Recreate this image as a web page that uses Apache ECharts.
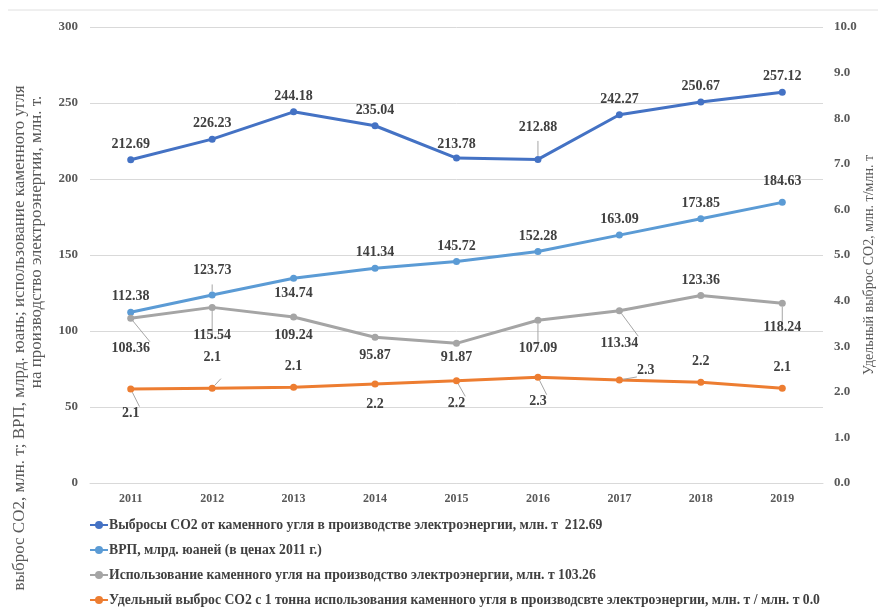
<!DOCTYPE html>
<html>
<head>
<meta charset="utf-8">
<script src="https://cdn.jsdelivr.net/npm/echarts@6/dist/echarts.min.js"></script>
<style>
  html,body{margin:0;padding:0;background:#fff;}
  #main{width:886px;height:610px;}
</style>
</head>
<body>
<div id="main"></div>
<script>
// данные с графика
var years = ['2011','2012','2013','2014','2015','2016','2017','2018','2019'];
var co2 = [212.69, 226.23, 244.18, 235.04, 213.78, 212.88, 242.27, 250.67, 257.12];
var grp = [112.38, 123.73, 134.74, 141.34, 145.72, 152.28, 163.09, 173.85, 184.63];
var coal = [108.36, 115.54, 109.24, 95.87, 91.87, 107.09, 113.34, 123.36, 118.24];
var intensity = [2.06, 2.08, 2.10, 2.17, 2.24, 2.32, 2.26, 2.21, 2.08];

var names = [
  'Выбросы CO2 от каменного угля в производстве электроэнергии, млн. т  212.69',
  'ВРП, млрд. юаней (в ценах 2011 г.)',
  'Использование каменного угля на производство электроэнергии, млн. т 103.26',
  'Удельный выброс CO2 с 1 тонна использования каменного угля в производсвте электроэнергии, млн. т / млн. т 0.0'
];

// где стоят подписи: [позиция, расстояние, выноска]
var co2Lbl = [['top',5],['top',5],['top',5],['top',5],['top',3],['top',22,1],['top',5],['top',5],['top',5]];
var grpLbl = [['top',5],['top',14,1],['bottom',5],['top',5],['top',5],['top',5],['top',5],['top',5],['top',10]];
var coalLbl = [['bottom',20,1],['bottom',18,1],['bottom',8],['bottom',8],['bottom',4],['bottom',18,1],['bottom',22,1],['top',5],['bottom',14,1]];
var intLbl = [['bottom',14,1],['top',20,1],['top',10],['bottom',10],['bottom',12,1],['bottom',14,1],['right',14,1],['top',10],['top',10]];

var FONT = '"Liberation Serif", "Times New Roman", serif';

function buildData(vals, lbl){
  return vals.map(function(v, i){
    var p = lbl[i];
    var item = {
      value: v,
      label: {position: p[0], distance: p[1]},
      labelLine: {show: !!p[2]}
    };
    if (p[0] == 'right') item.label.offset = [0, -10];
    return item;
  });
}

function mkSeries(name, vals, lbl, color, axis, dec){
  return {
    name: name,
    type: 'line',
    yAxisIndex: axis,
    data: buildData(vals, lbl),
    symbol: 'circle',
    symbolSize: 7,
    lineStyle: {width: 3, color: color},
    itemStyle: {color: color},
    label: {
      show: true,
      fontFamily: FONT,
      fontWeight: 'bold',
      fontSize: 14,
      color: '#404040',
      formatter: function(p){ return p.value.toFixed(dec); }
    },
    labelLine: {lineStyle: {color: '#a6a6a6', width: 1}}
  };
}

function vText(txt, x, y, size){
  return {
    type: 'text',
    x: x, y: y,
    rotation: Math.PI / 2,
    style: {
      text: txt,
      font: size + 'px ' + FONT,
      fill: '#595959',
      align: 'center',
      verticalAlign: 'middle'
    }
  };
}

var chart = echarts.init(document.getElementById('main'));
chart.setOption({
  backgroundColor: '#fff',
  animation: false,
  textStyle: {fontFamily: FONT},
  graphic: [{
    type: 'line',
    shape: {x1: 8, y1: 10, x2: 878, y2: 10},
    style: {stroke: '#e0e0e0', lineWidth: 1}
  },
    // подписи осей
    vText('выброс CO2, млн. т; ВРП, млрд. юань; использование каменного угля', 20, 338, 17),
    vText('на производство электроэнергии, млн. т.', 37, 242, 17),
    vText('Удельный выброс CO2, млн. т/млн. т', 869, 265, 14)
  ],
  grid: {left: 90, right: 63, top: 27, bottom: 127},
  legend: {
    orient: 'vertical',
    left: 84,
    top: 513,
    height: 97,
    itemGap: 11,
    itemWidth: 18,
    itemHeight: 10,
    data: names,
    textStyle: {fontFamily: FONT, fontWeight: 'bold', fontSize: 13.7, color: '#404040', padding: [0, 0, 0, -4]}
  },
  xAxis: {
    type: 'category',
    data: years,
    axisLine: {lineStyle: {color: '#d9d9d9'}},
    axisTick: {show: false},
    axisLabel: {fontFamily: FONT, fontWeight: 'bold', fontSize: 12, color: '#595959', margin: 10}
  },
  yAxis: [{
    type: 'value',
    min: 0, max: 300, interval: 50,
    axisLine: {show: false},
    axisTick: {show: false},
    axisLabel: {fontFamily: FONT, fontWeight: 'bold', fontSize: 13, color: '#595959', margin: 12},
    splitLine: {lineStyle: {color: '#d9d9d9'}}
  }, {
    type: 'value',
    min: 0, max: 10, interval: 1,
    axisLine: {show: false},
    axisTick: {show: false},
    axisLabel: {fontFamily: FONT, fontWeight: 'bold', fontSize: 13, color: '#595959', margin: 11,
      formatter: function(v){ return v.toFixed(1); }},
    splitLine: {show: false}
  }],
  series: [
    mkSeries(names[0], co2, co2Lbl, '#4472c4', 0, 2),
    mkSeries(names[1], grp, grpLbl, '#5b9bd5', 0, 2),
    mkSeries(names[2], coal, coalLbl, '#a5a5a5', 0, 2),
    mkSeries(names[3], intensity, intLbl, '#ed7d31', 1, 1)
  ]
});
</script>
</body>
</html>
